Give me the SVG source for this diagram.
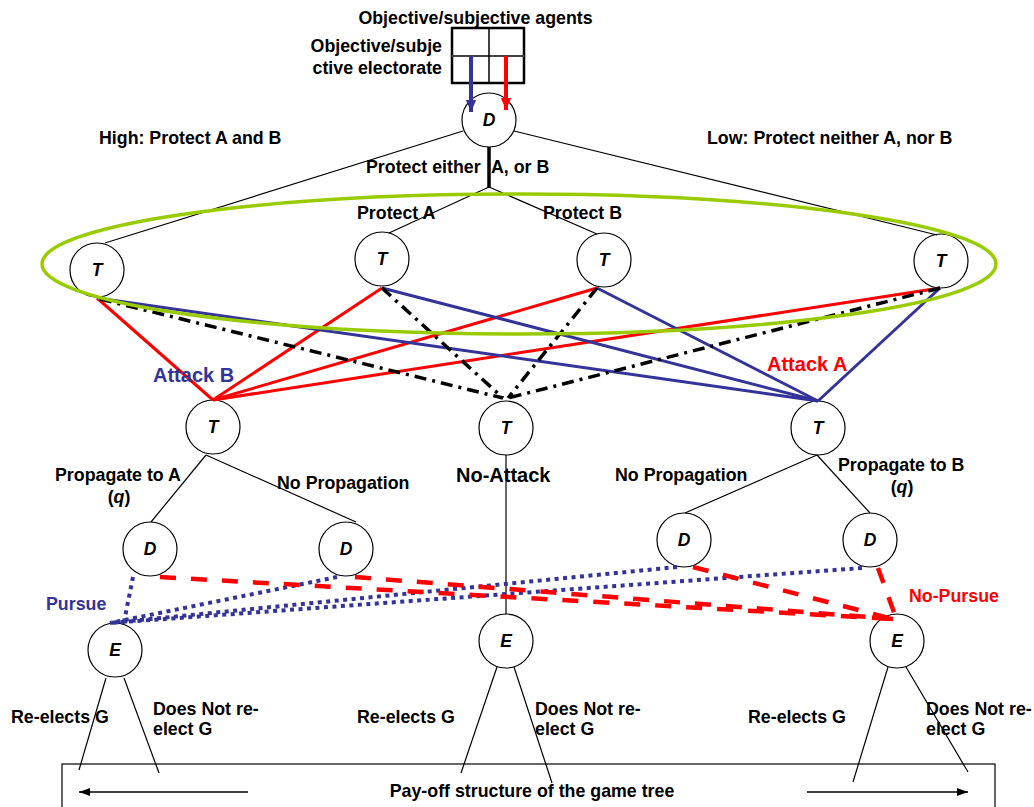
<svg xmlns="http://www.w3.org/2000/svg" width="1034" height="807" viewBox="0 0 1034 807">
  <defs>
    <marker id="headBlue" markerUnits="userSpaceOnUse" markerWidth="12" markerHeight="14" refX="14" refY="6" viewBox="0 0 14 12" orient="auto">
      <path d="M0,0 L14,6 L0,12 Z" fill="#333399"/>
    </marker>
    <marker id="headRed" markerUnits="userSpaceOnUse" markerWidth="12" markerHeight="14" refX="14" refY="6" viewBox="0 0 14 12" orient="auto">
      <path d="M0,0 L14,6 L0,12 Z" fill="#ff0000"/>
    </marker>
    <marker id="headBlack" markerUnits="userSpaceOnUse" markerWidth="11" markerHeight="8" refX="11" refY="4" viewBox="0 0 11 8" orient="auto">
      <path d="M0,0 L11,4 L0,8 Z" fill="#000"/>
    </marker>
  </defs>
  <style>
    text { font-family: "Liberation Sans", Arial, sans-serif; font-weight: bold; font-size: 17.8px; fill: #000; }
    .big { font-size: 20px; }
    .nl { font-style: italic; font-size: 17.5px; text-anchor: middle; }
    .blueT { fill: #333399; }
    .redT { fill: #ff0000; }
    .node circle { fill: #fff; stroke: #000; stroke-width: 1.2; }
    .tree { stroke: #000; stroke-width: 1.2; fill: none; }
    .stem { stroke: #000; stroke-width: 3.5; }
    .red { stroke: #ff0000; stroke-width: 3; }
    .blue { stroke: #333399; stroke-width: 3; }
    .dd { stroke: #000; stroke-width: 3.5; stroke-dasharray: 12 6 3 6; }
    .dot { stroke: #333399; stroke-width: 4; stroke-dasharray: 4 4.5; }
    .dash { stroke: #ff0000; stroke-width: 4.5; stroke-dasharray: 16 15; }
    .grid { fill: none; stroke: #000; stroke-width: 2.5; }
  </style>

  <rect width="1034" height="807" fill="#fff"/>

  <!-- pay-off frame -->
  <rect x="62" y="764" width="933" height="60" fill="none" stroke="#000" stroke-width="1.2"/>

  <!-- decision nodes -->
  <g id="nodes">
    <g id="d0" class="node"><circle cx="489" cy="120" r="27"/><text class="nl" x="489" y="126">D</text></g>
    <g id="t_high" class="node"><circle cx="97" cy="270" r="27"/><text class="nl" x="97" y="276">T</text></g>
    <g id="t_protA" class="node"><circle cx="382" cy="259" r="27"/><text class="nl" x="382" y="265">T</text></g>
    <g id="t_protB" class="node"><circle cx="604" cy="260" r="27"/><text class="nl" x="604" y="266">T</text></g>
    <g id="t_low" class="node"><circle cx="941" cy="261" r="27"/><text class="nl" x="941" y="267">T</text></g>
    <g id="t_attB" class="node"><circle cx="213" cy="427" r="27"/><text class="nl" x="213" y="433">T</text></g>
    <g id="t_none" class="node"><circle cx="506" cy="428" r="27"/><text class="nl" x="506" y="434">T</text></g>
    <g id="t_attA" class="node"><circle cx="818" cy="428" r="27"/><text class="nl" x="818" y="434">T</text></g>
    <g id="d_propA" class="node"><circle cx="150" cy="549" r="27"/><text class="nl" x="150" y="555">D</text></g>
    <g id="d_noPropB" class="node"><circle cx="346" cy="549" r="27"/><text class="nl" x="346" y="555">D</text></g>
    <g id="d_noPropA" class="node"><circle cx="684" cy="540" r="27"/><text class="nl" x="684" y="546">D</text></g>
    <g id="d_propB" class="node"><circle cx="870" cy="540" r="27"/><text class="nl" x="870" y="546">D</text></g>
    <g id="e_pursue" class="node"><circle cx="115" cy="650" r="27"/><text class="nl" x="115" y="656">E</text></g>
    <g id="e_none" class="node"><circle cx="506" cy="641" r="27"/><text class="nl" x="506" y="647">E</text></g>
    <g id="e_nopursue" class="node"><circle cx="897" cy="641" r="27"/><text class="nl" x="897" y="647">E</text></g>
  </g>

  <!-- agent / electorate grid -->
  <g id="agents">
    <rect class="grid" x="452" y="28" width="72" height="55"/>
    <line x1="452" y1="56" x2="524" y2="56" stroke="#444" stroke-width="1.8"/>
    <line x1="489" y1="28" x2="489" y2="83" stroke="#000" stroke-width="1.5"/>
  </g>

  <g id="connectors">
    <!-- first move of D -->
    <line class="tree" x1="463" y1="131" x2="105" y2="243"/>
    <line class="tree" x1="514" y1="131" x2="937" y2="235"/>
    <line class="stem" x1="489" y1="147" x2="489" y2="188"/>
    <line class="tree" x1="489" y1="187" x2="389" y2="233"/>
    <line class="tree" x1="489" y1="187" x2="597" y2="234"/>

    <!-- attack B (red) -->
    <line class="red" x1="97" y1="298" x2="213" y2="400"/>
    <line class="red" x1="382" y1="288" x2="213" y2="400"/>
    <line class="red" x1="597" y1="288" x2="213" y2="400"/>
    <line class="red" x1="940" y1="288" x2="213" y2="400"/>
    <!-- attack A (blue) -->
    <line class="blue" x1="97" y1="298" x2="818" y2="401"/>
    <line class="blue" x1="382" y1="288" x2="818" y2="401"/>
    <line class="blue" x1="597" y1="288" x2="818" y2="401"/>
    <line class="blue" x1="940" y1="288" x2="818" y2="401"/>
    <!-- no attack -->
    <line class="dd" x1="100" y1="299" x2="503" y2="398"/>
    <line class="dd" x1="382" y1="288" x2="503" y2="398"/>
    <line class="dd" x1="597" y1="288" x2="508" y2="398"/>
    <line class="dd" x1="940" y1="288" x2="508" y2="398"/>

    <!-- propagation -->
    <line class="tree" x1="206" y1="455" x2="151" y2="522"/>
    <line class="tree" x1="206" y1="455" x2="356" y2="522"/>
    <line class="tree" x1="817" y1="455" x2="685" y2="513"/>
    <line class="tree" x1="817" y1="455" x2="870" y2="513"/>
    <line class="tree" x1="506" y1="455" x2="506" y2="614"/>

    <!-- pursue (blue dotted) -->
    <line class="dot" x1="133" y1="577" x2="124" y2="622"/>
    <line class="dot" x1="337" y1="577" x2="110" y2="623"/>
    <line class="dot" x1="677" y1="567" x2="110" y2="623"/>
    <line class="dot" x1="862" y1="568" x2="110" y2="623"/>
    <!-- no pursue (red dashed) -->
    <line class="dash" x1="160" y1="577" x2="893" y2="619"/>
    <line class="dash" x1="355" y1="577" x2="893" y2="619"/>
    <line class="dash" x1="693" y1="567" x2="893" y2="619"/>
    <line class="dash" x1="878" y1="568" x2="895" y2="615"/>

    <!-- re-election -->
    <line class="tree" x1="106" y1="678" x2="79" y2="770"/>
    <line class="tree" x1="124" y1="678" x2="159" y2="773"/>
    <line class="tree" x1="497" y1="667" x2="461" y2="773"/>
    <line class="tree" x1="514" y1="667" x2="552" y2="783"/>
    <line class="tree" x1="888" y1="667" x2="853" y2="782"/>
    <line class="tree" x1="906" y1="667" x2="968" y2="772"/>

    <!-- pay-off arrows -->
    <line x1="248" y1="792" x2="79" y2="792" stroke="#000" stroke-width="1.5" marker-end="url(#headBlack)"/>
    <line x1="807" y1="792" x2="968" y2="792" stroke="#000" stroke-width="1.5" marker-end="url(#headBlack)"/>

    <!-- type arrows into D -->
    <line x1="471" y1="56" x2="471" y2="112" stroke="#333399" stroke-width="4" marker-end="url(#headBlue)"/>
    <line x1="506" y1="56" x2="506" y2="110" stroke="#ff0000" stroke-width="4" marker-end="url(#headRed)"/>
  </g>

  <!-- information set -->
  <ellipse id="infoset" cx="519" cy="264" rx="477" ry="70" fill="none" stroke="#99cc00" stroke-width="3.5"/>

  <g id="labels">
    <text x="475.5" y="24" text-anchor="middle">Objective/subjective agents</text>
    <text x="442" y="52" text-anchor="end">Objective/subje</text>
    <text x="442" y="74" text-anchor="end">ctive electorate</text>
    <text x="99" y="144">High: Protect A and B</text>
    <text x="707" y="144">Low: Protect neither A, nor B</text>
    <text x="366" y="173">Protect either<tspan x="491">A, or B</tspan></text>
    <text x="357" y="219">Protect A</text>
    <text x="543" y="219">Protect B</text>
    <text class="big blueT" x="153" y="382">Attack B</text>
    <text class="big redT" x="767" y="371">Attack A</text>
    <text class="big" x="456" y="482">No-Attack</text>
    <text x="55" y="481">Propagate to A</text>
    <text x="119" y="503" text-anchor="middle">(<tspan font-style="italic">q</tspan>)</text>
    <text x="277" y="489">No Propagation</text>
    <text x="615" y="481">No Propagation</text>
    <text x="838" y="471">Propagate to B</text>
    <text x="902" y="493" text-anchor="middle">(<tspan font-style="italic">q</tspan>)</text>
    <text class="blueT" x="46" y="610">Pursue</text>
    <text class="redT" x="909" y="602">No-Pursue</text>
    <text x="11" y="723">Re-elects G</text>
    <text x="153" y="715">Does Not re-</text>
    <text x="153" y="735">elect G</text>
    <text x="357" y="723">Re-elects G</text>
    <text x="535" y="715">Does Not re-</text>
    <text x="535" y="735">elect G</text>
    <text x="748" y="723">Re-elects G</text>
    <text x="926" y="715">Does Not re-</text>
    <text x="926" y="735">elect G</text>
    <text x="532" y="797" text-anchor="middle">Pay-off structure of the game tree</text>
  </g>
</svg>
